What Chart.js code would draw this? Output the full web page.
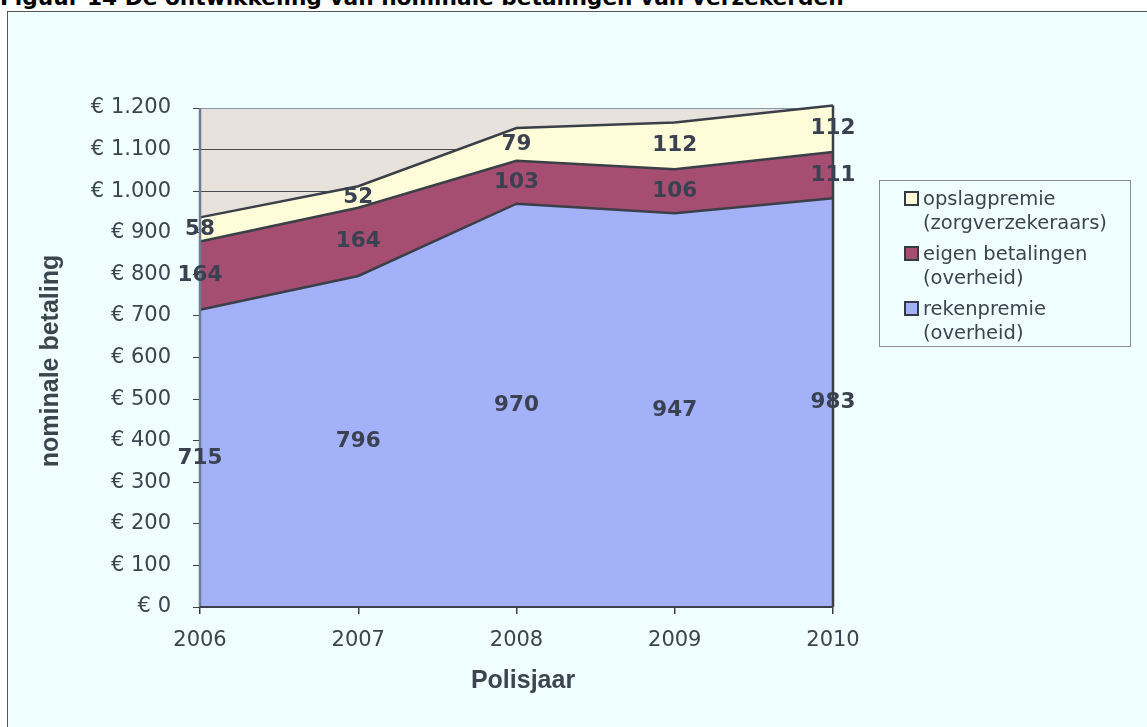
<!DOCTYPE html>
<html>
<head>
<meta charset="utf-8">
<script src="https://cdn.jsdelivr.net/npm/chart.js@4/dist/chart.umd.min.js"></script>
<style>
html,body{margin:0;padding:0;background:#ffffff;width:1147px;height:727px;overflow:hidden;}
#frame{position:absolute;left:7px;top:11px;width:1300px;height:900px;background:#F0FFFF;border-left:1.5px solid #555;border-top:1.5px solid #555;}
#title{position:absolute;left:0px;top:-14px;font:bold 21.7px "DejaVu Sans";line-height:24px;color:#000;white-space:nowrap;}
#chart{position:absolute;left:0;top:0;}
#legend{position:absolute;left:879px;top:180px;width:252px;height:167px;box-sizing:border-box;border:1px solid #8a8a8a;font:19.5px "DejaVu Sans";color:#3c4450;}
.item{position:absolute;left:0;width:100%;}
.mk{position:absolute;left:24px;top:4px;width:11px;height:11px;border:2px solid #333a44;}
.tx{position:absolute;left:43px;top:0;line-height:24px;white-space:nowrap;}
</style>
</head>
<body>
<div id="title">Figuur 14 De ontwikkeling van nominale betalingen van verzekerden</div>
<div id="frame"></div>
<canvas id="chart" width="1147" height="727"></canvas>
<div id="legend"></div>
<script>
// ---- data ----
const years = ['2006', '2007', '2008', '2009', '2010'];
const rekenpremie = [715, 796, 970, 947, 983];
const eigenBetalingen = [164, 164, 103, 106, 111];
const opslagpremie = [58, 52, 79, 112, 112];
const yTickLabels = ['€ 0', '€ 100', '€ 200', '€ 300', '€ 400', '€ 500', '€ 600', '€ 700', '€ 800', '€ 900', '€ 1.000', '€ 1.100', '€ 1.200'];
const seriesNames = [['rekenpremie', '(overheid)'], ['eigen betalingen', '(overheid)'], ['opslagpremie', '(zorgverzekeraars)']];
const seriesColors = ['#A2B1F8', '#A64D72', '#FFFDD9'];
const xTitle = 'Polisjaar';
const yTitle = 'nominale betaling';

const LINE = '#3a3f48';
const TEXT = '#3c4450';

const plotBg = {
  id: 'plotBg',
  beforeDraw(chart) {
    const {ctx, chartArea: a} = chart;
    ctx.save();
    ctx.fillStyle = '#E8E2DD';
    ctx.fillRect(a.left, a.top, a.right - a.left, a.bottom - a.top);
    ctx.restore();
  }
};

const extras = {
  id: 'extras',
  afterDatasetsDraw(chart) {
    const {ctx, chartArea: a, scales: {x, y}} = chart;
    const sets = chart.data.datasets;
    const n = chart.data.labels.length;
    ctx.save();
    // right edge of stacked areas
    let total = 0;
    sets.forEach(d => total += d.data[n - 1]);
    const xr = x.getPixelForValue(n - 1);
    ctx.strokeStyle = LINE;
    ctx.lineWidth = 2.5;
    ctx.beginPath();
    ctx.moveTo(xr, y.getPixelForValue(0));
    ctx.lineTo(xr, y.getPixelForValue(total));
    ctx.stroke();
    // axis lines
    ctx.strokeStyle = '#6f7d94';
    ctx.lineWidth = 2.5;
    ctx.beginPath();
    ctx.moveTo(a.left, a.top);
    ctx.lineTo(a.left, a.bottom);
    ctx.stroke();
    ctx.strokeStyle = LINE;
    ctx.lineWidth = 2;
    ctx.beginPath();
    ctx.moveTo(a.left, a.bottom);
    ctx.lineTo(a.right, a.bottom);
    ctx.stroke();
    // data labels at band centres
    ctx.fillStyle = '#3a4150';
    ctx.font = 'bold 21.5px "DejaVu Sans"';
    ctx.textAlign = 'center';
    ctx.textBaseline = 'middle';
    for (let j = 0; j < n; j++) {
      let base = 0;
      sets.forEach(d => {
        const v = d.data[j];
        ctx.fillText(String(v), x.getPixelForValue(j), y.getPixelForValue(base + v / 2));
        base += v;
      });
    }
    // axis titles
    ctx.fillStyle = TEXT;
    ctx.font = 'bold 25px "Liberation Sans"';
    ctx.textBaseline = 'alphabetic';
    ctx.textAlign = 'center';
    ctx.fillText(xTitle, 523, 688);
    ctx.translate(58, 361);
    ctx.rotate(-Math.PI / 2);
    ctx.fillText(yTitle, 0, 0);
    ctx.restore();
  }
};

const datasets = [rekenpremie, eigenBetalingen, opslagpremie].map((arr, i) => ({
  label: seriesNames[i].join(' '),
  data: arr,
  backgroundColor: seriesColors[i],
  borderColor: LINE,
  borderWidth: 2.5,
  fill: i === 0 ? 'origin' : '-1',
  pointRadius: 0,
  tension: 0,
  clip: false
}));

new Chart(document.getElementById('chart'), {
  type: 'line',
  data: {labels: years, datasets},
  options: {
    responsive: false,
    animation: false,
    devicePixelRatio: 1,
    layout: {padding: {left: 0, top: 108, right: 314, bottom: 0}},
    plugins: {legend: {display: false}, tooltip: {enabled: false}},
    scales: {
      x: {
        offset: false,
        grid: {drawOnChartArea: false, drawTicks: true, tickLength: 7, tickColor: LINE, lineWidth: 1.5},
        border: {display: false},
        ticks: {font: {family: 'DejaVu Sans', size: 21}, color: TEXT, padding: 14, maxRotation: 0, autoSkip: false},
        afterFit: s => { s.height = 120; }
      },
      y: {
        stacked: true,
        min: 0,
        max: 1200,
        grid: {color: c => (c.tick && c.tick.value === 1200) ? '#8797ae' : '#4a4a4a', tickColor: LINE, tickLength: 7, lineWidth: 1},
        border: {display: false},
        ticks: {stepSize: 100, font: {family: 'DejaVu Sans', size: 21}, color: TEXT, padding: 22,
          callback: (v, i) => yTickLabels[i]},
        afterFit: s => { s.width = 200; }
      }
    }
  },
  plugins: [plotBg, extras]
});

// legend (reverse order of stacking)
const leg = document.getElementById('legend');
[2, 1, 0].forEach((k, pos) => {
  const it = document.createElement('div');
  it.className = 'item';
  it.style.top = (6 + pos * 55) + 'px';
  const mk = document.createElement('div');
  mk.className = 'mk';
  mk.style.background = seriesColors[k];
  const tx = document.createElement('div');
  tx.className = 'tx';
  tx.innerHTML = seriesNames[k].join('<br>');
  it.appendChild(mk);
  it.appendChild(tx);
  leg.appendChild(it);
});
</script>
</body>
</html>
